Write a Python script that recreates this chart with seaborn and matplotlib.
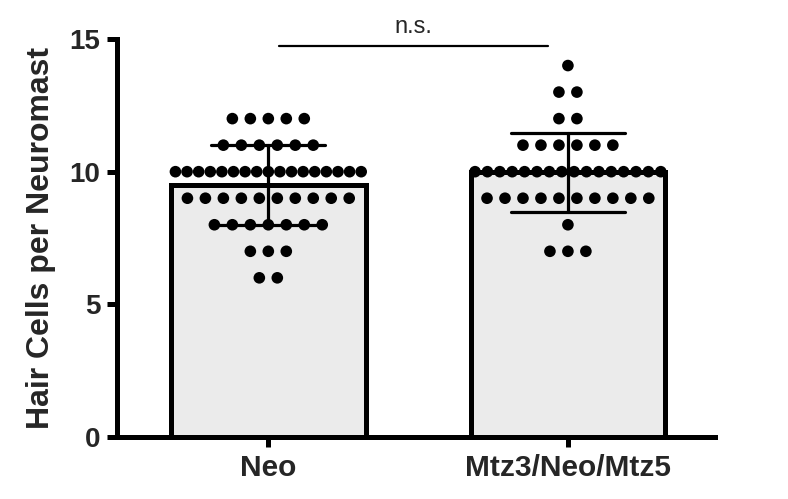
import pandas as pd
import matplotlib
matplotlib.use("Agg")
import matplotlib.pyplot as plt
import seaborn as sns
import numpy as np

# Data: hair cell counts and how many neuromasts had each count
groups = ["Neo", "Mtz3/Neo/Mtz5"]
neo_counts = [12, 11, 10, 9, 8, 7, 6]
neo_freq = [5, 6, 17, 10, 7, 3, 2]
mtz_counts = [14, 13, 12, 11, 10, 9, 8, 7]
mtz_freq = [1, 2, 2, 6, 16, 10, 1, 3]
yticks = [0, 5, 10, 15]

# Build long table, with a Prism-like horizontal spread of identical values
rows = []
for gi, (counts, freq) in enumerate([(neo_counts, neo_freq), (mtz_counts, mtz_freq)]):
    for c, n in zip(counts, freq):
        step = min(0.06, 0.62 / max(n - 1, 1))
        for i in range(n):
            rows.append({"group": groups[gi], "value": c, "xpos": gi + (i - (n - 1) / 2) * step})
df = pd.DataFrame(rows)

sns.set_style("white")
plt.rcParams["font.family"] = ["Liberation Sans", "DejaVu Sans"]

fig = plt.figure(figsize=(7.88, 4.99), dpi=100)
ax = fig.add_axes([0.1485, 0.1242, 0.7585, 0.7976])

# Bars at the mean
sns.barplot(data=df, x="group", y="value", order=groups, errorbar=None,
            color="#ebebeb", edgecolor="black", linewidth=3.6, width=0.65,
            saturation=1, ax=ax)

# Individual points
sns.scatterplot(data=df, x="xpos", y="value", color="black", s=70,
                edgecolor="none", linewidth=0, ax=ax, legend=False, zorder=3)

# Mean +/- SD error bars
sns.pointplot(data=df, x="group", y="value", order=groups, errorbar="sd",
              capsize=0.38, color="black", linestyle="none", markersize=0,
              err_kws={"linewidth": 2.3}, ax=ax)
for ln in ax.lines:
    ln.set_zorder(4)

# Significance line
ax.plot([0.035, 0.935], [14.75, 14.75], color="black", lw=1.6, clip_on=False)
ax.text(0.485, 15.05, "n.s.", ha="center", va="bottom", fontsize=17)

ax.set_xlim(-0.505, 1.49)
ax.set_ylim(0, 15)
ax.set_yticks(yticks)
ax.set_xlabel("")
ax.set_ylabel("Hair Cells per Neuromast", fontsize=23, fontweight="bold", labelpad=10)

for side in ["top", "right"]:
    ax.spines[side].set_visible(False)
for side in ["left", "bottom"]:
    ax.spines[side].set_linewidth(3.6)
    ax.spines[side].set_color("black")

ax.tick_params(axis="both", which="major", direction="out", length=7, width=3.6,
               color="black", pad=5, left=True, bottom=True)
ax.tick_params(axis="y", labelsize=20)
ax.tick_params(axis="x", labelsize=21.5)
for lab in ax.get_xticklabels() + ax.get_yticklabels():
    lab.set_fontweight("bold")

fig.savefig("out.png", dpi=100)
